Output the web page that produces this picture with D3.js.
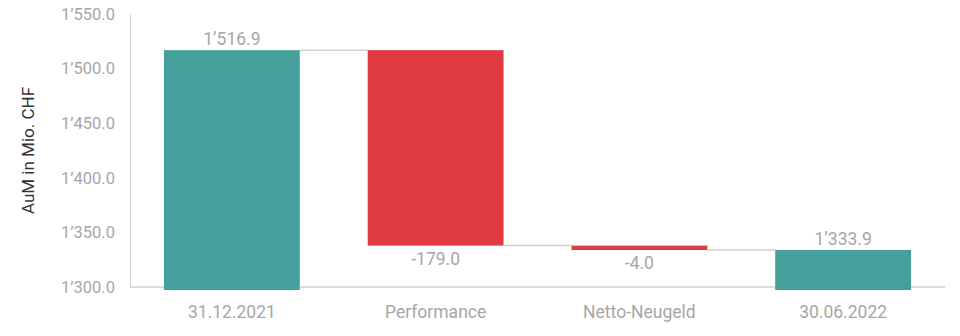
<!DOCTYPE html>
<html>
<head>
<meta charset="utf-8">
<script src="https://cdn.jsdelivr.net/npm/d3@7"></script>
<style>
  body { margin: 0; background: #fff; }
  text { font-family: Roboto, "Liberation Sans", sans-serif; }
</style>
</head>
<body>
<div id="chart"></div>
<script>
var categories = ["31.12.2021", "Performance", "Netto-Neugeld", "30.06.2022"];
var changes = [1516.9, -179.0, -4.0, 1333.9];
var isTotal = [true, false, false, true];
var labels = ["1’516.9", "-179.0", "-4.0", "1’333.9"];
var yTicks = [1300, 1350, 1400, 1450, 1500, 1550];

var svgWidth = 960, svgHeight = 336;
var margin = { top: 14, right: 15, bottom: 49, left: 130 };
var width = svgWidth - margin.left - margin.right;
var height = svgHeight - margin.top - margin.bottom;

var svg = d3.select("#chart").append("svg")
  .attr("width", svgWidth)
  .attr("height", svgHeight);

var g = svg.append("g")
  .attr("transform", `translate(${margin.left}, ${margin.top})`);

// waterfall start/end
var running = 0;
var steps = categories.map(function(c, i) {
  var start, end;
  if (isTotal[i]) { start = 1300; end = changes[i]; running = changes[i]; }
  else { start = running; end = running + changes[i]; running = end; }
  return { cat: c, start: start, end: end, total: isTotal[i], label: labels[i] };
});

var x = d3.scaleBand().domain(categories).range([0, width]).paddingInner(1/3).paddingOuter(1/6);
var y = d3.scaleLinear().domain([1300, 1550]).range([height, 0]);

// y axis
var yAxis = g.append("g")
  .call(d3.axisLeft(y).tickValues(yTicks).tickSize(0).tickPadding(15)
    .tickFormat(function(d) { return d3.format(",.1f")(d).replace(",", "’"); }));
yAxis.select(".domain").attr("stroke", "#d0d0d0");
yAxis.selectAll("text").attr("fill", "#a6a6a6").style("font-size", "16.5px");

// x axis line
g.append("line")
  .attr("x1", 0).attr("x2", width)
  .attr("y1", y(1300)).attr("y2", y(1300))
  .attr("stroke", "#d0d0d0").attr("stroke-width", 1.5);

// connectors
g.selectAll(".conn").data(steps.slice(0, -1)).enter().append("line")
  .attr("x1", d => x(d.cat) + x.bandwidth())
  .attr("x2", (d, i) => x(steps[i + 1].cat))
  .attr("y1", d => y(d.end)).attr("y2", d => y(d.end))
  .attr("stroke", "#d0d0d0").attr("stroke-width", 1.5);

// bars
g.selectAll(".bar").data(steps).enter().append("rect")
  .attr("x", d => x(d.cat))
  .attr("width", x.bandwidth())
  .attr("y", d => y(Math.max(d.start, d.end)))
  .attr("height", d => Math.max(Math.abs(y(d.start) - y(d.end)), 3) + (d.total ? 3 : 0))
  .attr("fill", d => d.total ? "#45a09b" : "#e03a42");

// value labels
g.selectAll(".val").data(steps).enter().append("text")
  .attr("x", d => x(d.cat) + x.bandwidth() / 2)
  .attr("y", d => d.total ? y(d.end) - 5 : y(d.end) + 19)
  .attr("text-anchor", "middle")
  .attr("fill", "#a6a6a6")
  .style("font-size", "17.5px")
  .text(d => d.label);

// category labels
g.selectAll(".cat").data(categories).enter().append("text")
  .attr("x", d => x(d) + x.bandwidth() / 2)
  .attr("y", height + 31)
  .attr("text-anchor", "middle")
  .attr("fill", "#a6a6a6")
  .style("font-size", "17.5px")
  .text(d => d);

// y title
g.append("text")
  .attr("transform", "rotate(-90)")
  .attr("x", -height / 2)
  .attr("y", -margin.left + 34)
  .attr("text-anchor", "middle")
  .attr("fill", "#333")
  .style("font-size", "17px")
  .text("AuM in Mio. CHF");
</script>
</body>
</html>
